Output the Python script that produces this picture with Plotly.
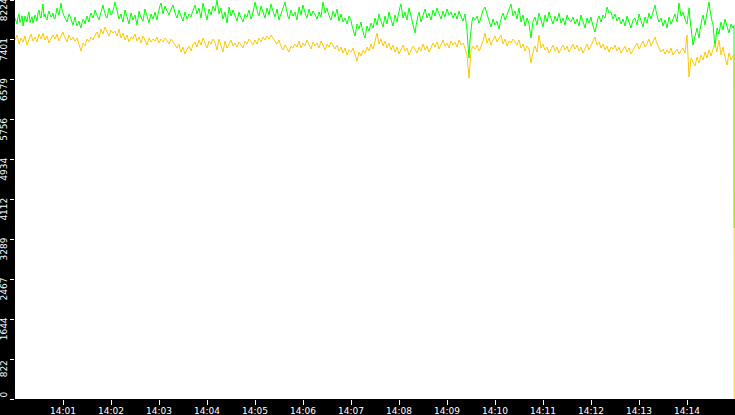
import pandas as pd
import plotly.graph_objects as go

# main samples (every 2.5 s from 14:00:00, final sample at 14:14:59)
green_values = [
    7853,7729,7936,7812,7688,7894,7771,7977,7833,7750,
    7915,7791,8018,7853,8142,7936,7812,7997,7874,7956,
    7833,8059,7915,8162,7977,7853,7771,7936,7812,7709,
    7874,7688,7791,7647,7833,7729,7894,7771,7956,7853,
    8018,7894,7812,7977,8121,7936,7853,8059,7915,7997,
    8183,7977,7833,7936,7771,8018,7874,7729,7956,7812,
    7915,7709,7997,7853,7791,8039,7894,7750,7936,7833,
    7977,7812,8059,8162,7936,8100,7997,7915,8039,8121,
    7956,7853,8018,7894,7791,7977,7833,7936,7874,8018,
    8121,7936,8059,7853,8162,7977,7812,8039,7915,8100,
    7997,8224,7936,8059,7833,7977,7750,8080,7894,8018,
    7915,7791,7977,7853,7771,7936,7874,8018,7833,7956,
    8183,7997,7894,8100,7956,7853,8059,7915,8142,7977,
    7874,8039,7812,7956,8059,8183,7936,7833,8018,7894,
    7977,7812,8080,7915,8121,7956,7853,8039,7894,7997,
    7936,7833,7977,7874,8183,7956,8059,7894,7812,7997,
    7874,8039,7791,7936,7771,7853,7729,7894,7812,7606,
    7482,7729,7626,7771,7544,7441,7688,7585,7750,7647,
    7853,7709,7936,7771,7668,7894,7729,7977,7812,7688,
    7915,7771,8018,8142,7853,7977,7812,8059,7894,7729,
    7544,7833,7977,7771,7915,8039,7853,7956,7812,8018,
    7894,8059,7936,7833,7997,7874,8039,7915,7977,7853,
    7956,7833,7997,7874,7791,7936,7606,7029,7709,7874,
    7812,7894,7750,7853,8018,8080,7936,7771,7668,7833,
    7709,7791,7626,7853,7956,7812,7915,8039,8142,7894,
    7997,7833,8059,7771,7915,7688,7853,7729,7441,7791,
    7874,7709,7956,7812,7668,7915,7771,7977,7833,7729,
    7894,7791,7956,7750,7853,7709,7915,7812,7771,7874,
    7729,7833,7688,7915,7791,7647,7853,7750,7874,7668,
    7565,7812,7894,7771,7915,7853,8080,7956,7977,7833,
    7936,7791,7874,7729,7833,7688,7894,7771,7647,7812,
    7853,7709,7936,7791,7668,7874,7750,7956,7833,7997,
    8121,7894,7771,7853,7688,7812,7647,7874,7729,7833,
    7936,7771,8162,7894,7977,7812,7729,8059,7606,7297,
    7482,7647,7441,7771,7915,7709,7977,8183,7853,7729,
    7255,7647,7523,7771,7606,7833,7668,7544,7729,7647,
    3525,
]

yellow_values = [
    7400,7503,7317,7441,7358,7482,7297,7420,7523,7379,
    7462,7358,7523,7420,7544,7400,7482,7338,7441,7503,
    7420,7523,7379,7482,7565,7441,7358,7503,7400,7462,
    7379,7441,7317,7173,7338,7276,7420,7358,7462,7400,
    7503,7565,7441,7626,7523,7668,7585,7482,7606,7544,
    7585,7482,7626,7441,7544,7400,7503,7358,7462,7420,
    7523,7379,7462,7338,7482,7400,7297,7441,7358,7420,
    7379,7462,7338,7420,7358,7441,7400,7317,7420,7358,
    7297,7235,7317,7152,7255,7111,7214,7276,7173,7317,
    7358,7255,7400,7297,7441,7338,7235,7379,7317,7420,
    7358,7194,7420,7276,7152,7379,7235,7317,7400,7276,
    7338,7255,7358,7297,7235,7379,7317,7420,7358,7297,
    7400,7317,7441,7358,7462,7400,7482,7420,7503,7441,
    7379,7317,7400,7255,7194,7297,7214,7152,7276,7235,
    7317,7255,7379,7235,7338,7276,7400,7297,7214,7358,
    7276,7338,7235,7379,7297,7194,7317,7255,7358,7276,
    7214,7297,7173,7255,7132,7235,7090,7194,7152,7235,
    7111,6967,7152,7070,7194,7132,7255,7173,7317,7214,
    7358,7544,7317,7420,7276,7379,7235,7338,7194,7297,
    7152,7255,7111,7214,7297,7173,7235,7090,7194,7276,
    7214,7132,7255,7173,7317,7194,7276,7152,7235,7338,
    7255,7358,7214,7317,7400,7276,7338,7235,7379,7297,
    7358,7255,7400,7297,7338,7235,7090,6616,7194,7276,
    7214,7297,7173,7255,7379,7544,7338,7441,7297,7400,
    7482,7358,7441,7503,7317,7420,7276,7379,7338,7420,
    7358,7297,7400,7235,7317,7173,7276,7214,6926,7194,
    7276,7152,7503,7235,7317,7194,7255,7132,7214,7297,
    7173,7255,7132,7235,7297,7194,7276,7152,7235,7317,
    7214,7297,7173,7255,7132,7235,7317,7194,7276,7379,
    7462,7297,7358,7235,7317,7194,7276,7152,7255,7214,
    7297,7173,7255,7132,7214,7276,7152,7235,7111,7194,
    7255,7338,7214,7297,7379,7255,7317,7420,7276,7358,
    7462,7317,7235,7152,7214,7111,7194,7132,7235,7090,
    7173,7214,7111,7194,7235,7132,7503,6637,7029,6946,
    6864,7049,6926,7090,6987,7152,7029,7194,7070,7235,
    7317,7152,7400,7090,7255,7029,6884,7132,6987,7070,
    0,
]

# in-between samples (every 2.5 s from 14:00:01.25)
green_mid_values = [
    7790,7870,7760,7900,7800,7840,7905,7760,7880,7810,
    7860,7950,7900,8010,7880,7850,7930,7920,7900,7850,
    7950,7980,8040,8020,7900,7790,7860,7890,7760,7790,
    7760,7740,7700,7760,7800,7820,7830,7880,7900,7920,
    7960,7850,7900,8060,8020,7880,7950,7990,7940,8080,
    8080,7900,7880,7840,7900,7950,7800,7850,7890,7870,
    7810,7850,7920,7820,7920,7970,7820,7850,7880,7900,
    7890,7930,8110,8050,8020,8050,7950,7980,8080,8040,
    7900,7940,7950,7840,7880,7900,7880,7910,7950,8070,
    8030,8000,7950,8010,8070,7890,7930,7980,8010,8050,
    8110,8080,8000,7940,7900,7860,7920,7990,7950,7960,
    7850,7880,7910,7810,7850,7900,7950,7920,7890,8070,
    8090,7940,8000,8030,7900,7960,7990,8030,8060,7920,
    7950,7920,7880,8010,8120,8060,7880,7930,7950,7940,
    7890,7950,8000,8020,8040,7900,7950,7960,7940,7960,
    7880,7900,7920,8030,8070,8010,7970,7850,7900,7940,
    7960,7910,7860,7850,7810,7790,7810,7850,7700,7540,
    7600,7680,7700,7650,7490,7560,7630,7670,7700,7750,
    7780,7820,7850,7720,7780,7810,7850,7890,7750,7800,
    7840,7890,8080,8000,7910,7890,7940,7980,7810,7640,
    7690,7900,7870,7840,7980,7950,7900,7880,7910,7950,
    7980,8000,7880,7910,7930,7960,7980,7940,7910,7900,
    7900,7910,7940,7830,7860,7770,7300,7400,7790,7840,
    7850,7820,7800,7940,8050,8000,7850,7720,7750,7770,
    7750,7700,7740,7900,7880,7860,7980,8090,8020,7950,
    7910,7950,7910,7840,7800,7770,7790,7590,7620,7830,
    7790,7830,7880,7740,7790,7840,7870,7900,7780,7810,
    7840,7870,7850,7800,7780,7810,7860,7790,7820,7800,
    7780,7760,7800,7850,7720,7750,7800,7810,7770,7620,
    7690,7850,7830,7840,7880,7960,8020,7970,7900,7880,
    7860,7830,7800,7780,7760,7790,7830,7710,7730,7830,
    7780,7820,7860,7730,7770,7810,7850,7890,7910,8060,
    8000,7830,7810,7770,7750,7730,7760,7800,7780,7880,
    7850,7960,8030,7930,7900,7770,7890,7830,7450,7390,
    7560,7540,7600,7840,7810,7840,8080,8020,7790,7500,
    7450,7590,7650,7690,7720,7750,7600,7640,7690,7700,
]

yellow_mid_values = [
    7450,7410,7380,7400,7420,7390,7360,7470,7450,7420,
    7410,7440,7470,7480,7470,7440,7410,7390,7470,7460,
    7470,7450,7430,7520,7500,7400,7430,7450,7430,7420,
    7410,7380,7240,7260,7310,7350,7390,7410,7430,7450,
    7530,7500,7530,7570,7600,7620,7530,7540,7570,7560,
    7530,7550,7530,7490,7470,7450,7430,7410,7440,7470,
    7450,7420,7400,7410,7440,7350,7370,7400,7390,7400,
    7420,7400,7380,7390,7400,7420,7360,7370,7390,7330,
    7260,7280,7230,7200,7180,7160,7250,7220,7240,7330,
    7300,7330,7350,7370,7390,7280,7300,7350,7370,7390,
    7270,7310,7350,7210,7270,7300,7270,7360,7340,7310,
    7290,7310,7330,7260,7310,7350,7370,7390,7330,7350,
    7360,7380,7400,7410,7430,7440,7450,7460,7470,7410,
    7350,7360,7330,7220,7250,7260,7180,7210,7250,7280,
    7290,7320,7300,7290,7300,7340,7350,7260,7290,7320,
    7310,7280,7310,7340,7240,7250,7290,7310,7320,7250,
    7260,7230,7210,7190,7180,7160,7140,7170,7190,7170,
    7040,7060,7110,7130,7160,7190,7210,7250,7260,7290,
    7450,7430,7370,7350,7330,7310,7290,7260,7250,7220,
    7200,7180,7160,7260,7240,7200,7160,7140,7240,7250,
    7170,7190,7210,7250,7260,7230,7210,7190,7290,7300,
    7310,7290,7260,7360,7340,7310,7290,7310,7340,7330,
    7310,7330,7350,7320,7290,7160,6850,6900,7230,7240,
    7250,7230,7210,7320,7460,7440,7390,7370,7350,7440,
    7420,7400,7470,7410,7370,7350,7330,7360,7380,7390,
    7330,7350,7320,7280,7250,7230,7250,7060,7050,7230,
    7210,7330,7370,7280,7250,7220,7190,7170,7260,7230,
    7210,7190,7180,7270,7250,7230,7210,7190,7280,7260,
    7250,7230,7210,7190,7180,7270,7260,7240,7330,7420,
    7380,7330,7300,7280,7260,7240,7210,7200,7230,7250,
    7230,7210,7190,7170,7240,7210,7190,7170,7150,7220,
    7300,7280,7250,7340,7320,7290,7370,7350,7320,7410,
    7390,7280,7190,7180,7160,7150,7160,7180,7160,7130,
    7190,7160,7150,7210,7180,7310,7070,6830,6990,6900,
    6950,6980,7010,7040,7070,7090,7110,7130,7150,7270,
    7230,7280,7240,7170,7140,6950,7010,7060,7030,7100,
]

main_times = list(pd.date_range("2024-01-01 14:00:00", periods=360, freq="2500ms"))
main_times.append(pd.Timestamp("2024-01-01 14:14:59"))
mid_times = list(pd.date_range("2024-01-01 14:00:01.250", periods=360, freq="2500ms"))

x_tick_times = list(pd.date_range("2024-01-01 14:01:00", "2024-01-01 14:14:00", freq="1min"))
x_tick_labels = [t.strftime("%H:%M") for t in x_tick_times]

y_tick_values = [822.4, 1644.8, 2467.2, 3289.6, 4112, 4934.4, 5756.8, 6579.2, 7401.6, 8224]
y_tick_labels = ["822", "1644", "2467", "3289", "4112", "4934", "5756", "6579", "7401", "8224"]
y_zero_tick_values = [0]
y_zero_tick_labels = ["0"]
y_range = [0, 8225]


def merged(times_a, vals_a, times_b, vals_b):
    df = pd.DataFrame({"t": list(times_a) + list(times_b), "v": list(vals_a) + list(vals_b)})
    df = df.sort_values("t")
    return df["t"], df["v"]


gx, gy = merged(main_times, green_values, mid_times, green_mid_values)
yx, yy = merged(main_times, yellow_values, mid_times, yellow_mid_values)

fig = go.Figure()
fig.add_trace(go.Scatter(x=gx, y=gy, mode="lines",
                         line=dict(color="#00ff00", width=1), name="green"))
# yellow is drawn on the overlaid axis (same range) so that it sits on top
fig.add_trace(go.Scatter(x=yx, y=yy, mode="lines", yaxis="y2",
                         line=dict(color="#ffc800", width=1), name="yellow"))

font = dict(family="DejaVu Sans", size=9, color="white")
common_y = dict(range=y_range, showgrid=False, zeroline=False, showline=False,
                ticks="outside", ticklen=4, tickcolor="white", tickwidth=1,
                tickangle=-90, tickfont=font, automargin=False,
                ticklabeloverflow="allow", ticklabelstandoff=-1)
fig.update_layout(
    width=735, height=415,
    margin=dict(l=15, r=0, t=0, b=16, pad=0),
    paper_bgcolor="black", plot_bgcolor="white",
    showlegend=False,
    xaxis=dict(range=["2024-01-01 14:00:00", "2024-01-01 14:15:00"],
               tickvals=x_tick_times, ticktext=x_tick_labels,
               showgrid=False, zeroline=False, showline=False,
               ticks="outside", ticklen=5, tickcolor="white", tickwidth=1,
               tickfont=font, automargin=False, ticklabelstandoff=-2),
    yaxis=dict(tickvals=y_tick_values, ticktext=y_tick_labels,
               ticklabelshift=11, **common_y),
    yaxis2=dict(overlaying="y", side="left", tickvals=y_zero_tick_values,
                ticktext=y_zero_tick_labels, ticklabelshift=-3, **common_y),
)
fig.write_html("out.html", config={"displayModeBar": False},
               post_script="document.body.style.margin='0';document.body.style.background='black';")
